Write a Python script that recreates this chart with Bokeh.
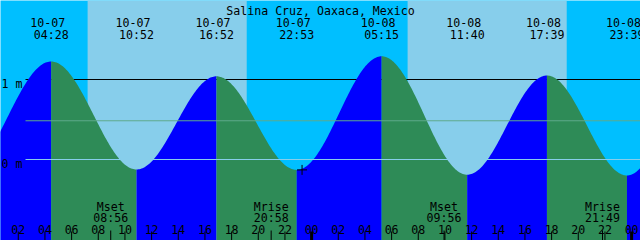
import numpy as np
from bokeh.plotting import figure
from bokeh.models import Range1d
from bokeh.core.properties import value
from bokeh.embed import file_html
from bokeh.resources import INLINE

# ---------------- data ----------------
title = "Salina Cruz, Oaxaca, Mexico"
chart_start = "10-07 00:40"
chart_hours = 48
y_low, y_high = -1.0125, 1.9875          # metres shown (bottom, top)

tide_times = ["10-06 21:58", "10-07 04:28", "10-07 10:52", "10-07 16:52", "10-07 22:53",
              "10-08 05:15", "10-08 11:40", "10-08 17:39", "10-08 23:39", "10-09 05:54"]
tide_heights = [-0.15, 1.225, -0.125, 1.04, -0.13, 1.29, -0.19, 1.05, -0.2, 1.3]

sun_rise = ["10-07 07:12", "10-08 07:12"]
sun_set = ["10-07 19:08", "10-08 19:08"]

moon_names = ["Mset", "Mrise", "Mset", "Mrise"]
moon_times = ["10-07 08:56", "10-07 20:58", "10-08 09:56", "10-08 21:49"]

level_lines = [1.0, 0.0]
level_labels = ["1 m", "0 m"]
mean_level = 0.484

mark_time = "10-07 23:17"
mark_height = -0.13

# ---------------- helpers ----------------
def hours(s):
    d, hm = s.split()
    day = int(d.split("-")[1])
    hh, mm = hm.split(":")
    return (day - 7) * 24 + int(hh) + int(mm) / 60.0

T0 = hours(chart_start)
T1 = T0 + chart_hours
W, H = 640, 240
PXH = chart_hours / W          # hours per pixel
PXM = (y_high - y_low) / H     # metres per pixel
def X(px):
    return T0 + px * PXH
def Y(py):
    return y_high - py * PXM

FONT = value("DejaVu Sans Mono")
FS = "11.6px"

p = figure(width=W, height=H, output_backend="svg", toolbar_location=None,
           x_range=Range1d(T0, T1), y_range=Range1d(y_low, y_high),
           min_border=0, x_axis_type=None, y_axis_type=None)
p.outline_line_color = None
p.grid.visible = False
p.background_fill_color = "#00BFFF"
p.border_fill_color = "#00BFFF"

# daylight bands
p.quad(left=[hours(s) for s in sun_rise], right=[hours(s) for s in sun_set],
       bottom=y_low, top=y_high, fill_color="#87CEEB", line_color=None)

# 1 m line (behind the tide)
p.segment(x0=X(25), x1=T1, y0=level_lines[0], y1=level_lines[0], line_color="black", line_width=1)

# tide curve
tt = [hours(s) for s in tide_times]
for i in range(len(tt) - 1):
    t = np.linspace(tt[i], tt[i + 1], 80)
    f = (1 - np.cos(np.pi * (t - tt[i]) / (tt[i + 1] - tt[i]))) / 2
    h = tide_heights[i] + (tide_heights[i + 1] - tide_heights[i]) * f
    rising = tide_heights[i + 1] > tide_heights[i]
    col = "#0000FF" if rising else "#2E8B57"
    p.varea(x=t, y1=y_low, y2=h, fill_color=col)

# mean level and 0 m lines over the tide
p.segment(x0=X(25), x1=T1, y0=mean_level, y1=mean_level, line_color="#5FAA8C", line_width=1)
p.segment(x0=X(25), x1=T1, y0=level_lines[1], y1=level_lines[1], line_color="#87CEEB", line_width=1)

# level labels
p.text(x=[X(1)] * 2, y=[v - 4.5 * PXM for v in level_lines], text=level_labels,
       text_font=FONT, text_font_size=FS, text_align="left", text_baseline="alphabetic",
       text_color="black")

# title
p.text(x=[X(320)], y=[Y(10)], text=[title], text_font=FONT, text_font_size=FS,
       text_align="center", text_baseline="alphabetic", text_color="black")

# tide event labels
ev_x, ev_d, ev_t = [], [], []
for s in tide_times:
    t = hours(s)
    if T0 - 2 < t < T1 + 2:
        ev_x.append(t)
        ev_d.append(s.split()[0])
        ev_t.append(s.split()[1])
p.text(x=[t - 3.5 * PXH for t in ev_x], y=Y(22), text=ev_d, text_font=FONT, text_font_size=FS,
       text_align="center", text_baseline="alphabetic", text_color="black")
p.text(x=ev_x, y=Y(34), text=ev_t, text_font=FONT, text_font_size=FS,
       text_align="center", text_baseline="alphabetic", text_color="black")

# moon events
mx = [hours(s) for s in moon_times]
p.text(x=mx, y=Y(206), text=moon_names, text_font=FONT, text_font_size=FS,
       text_align="center", text_baseline="alphabetic", text_color="black")
p.text(x=mx, y=Y(217), text=[s.split()[1] for s in moon_times], text_font=FONT, text_font_size=FS,
       text_align="center", text_baseline="alphabetic", text_color="black")
p.segment(x0=mx, x1=mx, y0=y_low, y1=Y(230), line_color="black", line_width=1)

# hour ticks
hr = [h for h in range(0, 60, 2) if T0 < h < T1]
norm = [h for h in hr if h % 24 != 0]
mid = [h for h in hr if h % 24 == 0]
p.segment(x0=norm, x1=norm, y0=y_low, y1=Y(231), line_color="black", line_width=1)
p.segment(x0=mid, x1=mid, y0=y_low, y1=Y(231), line_color="black", line_width=3)
p.text(x=hr, y=Y(229), text=["%02d" % (h % 24) for h in hr], text_font=FONT, text_font_size=FS,
       text_align="center", text_baseline="alphabetic", text_color="black")

# mark
p.scatter(x=[hours(mark_time)], y=[mark_height], marker="cross", size=10,
          line_color="black", line_width=1)

open("out.html", "w").write(file_html(p, INLINE))
